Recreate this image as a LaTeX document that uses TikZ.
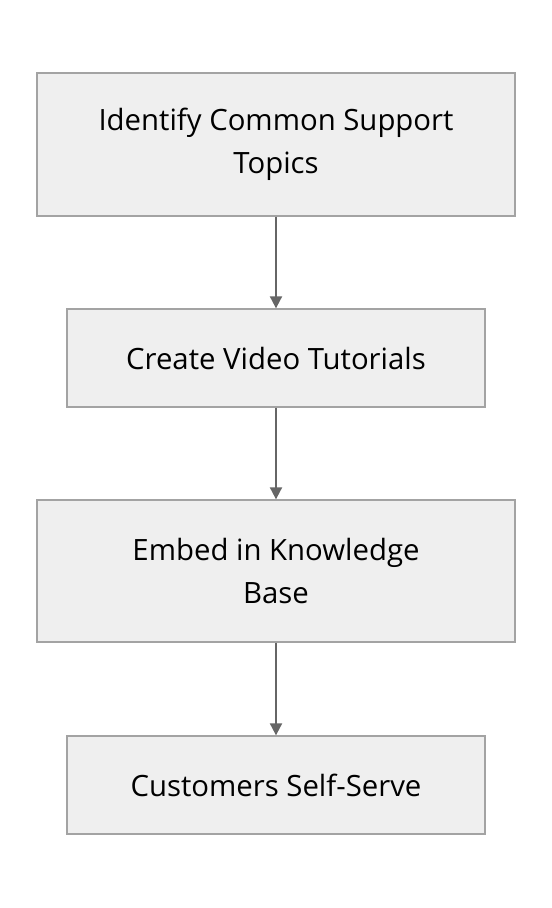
\documentclass[tikz,border=0pt]{standalone}
\usepackage{fontspec}
\setmainfont{Open Sans}
\usetikzlibrary{arrows.meta}
\definecolor{boxfill}{HTML}{EFEFEF}
\definecolor{boxline}{HTML}{A3A3A3}
\definecolor{arrowgray}{HTML}{666666}
\begin{document}
\begin{tikzpicture}[x=0.75pt, y=-0.75pt,
        stepbox/.style = {draw = boxline, fill = boxfill, line width = 1pt,
            align = center, font = \fontsize{22}{32}\selectfont,
            inner sep = 0pt},
        flow/.style = {draw = arrowgray, line width = 1.5pt,
            -{Triangle[length = 9pt, width = 9pt]}}]
        \useasboundingbox (0, 0) rectangle (552, 908);
        \node [stepbox, minimum width = 478*0.75pt, minimum height = 143*0.75pt] (identify) at (276, 144.5) {Identify Common Support\\Topics};
        \node [stepbox, minimum width = 418*0.75pt, minimum height = 98*0.75pt] (create) at (276, 358) {Create Video Tutorials};
        \node [stepbox, minimum width = 478*0.75pt, minimum height = 142*0.75pt] (embed) at (276, 571) {Embed in Knowledge\\Base};
        \node [stepbox, minimum width = 418*0.75pt, minimum height = 98*0.75pt] (serve) at (276, 785) {Customers Self-Serve};
        \draw [flow] (identify) -- (create);
        \draw [flow] (create) -- (embed);
        \draw [flow] (embed) -- (serve);
    \end{tikzpicture}
\end{document}
